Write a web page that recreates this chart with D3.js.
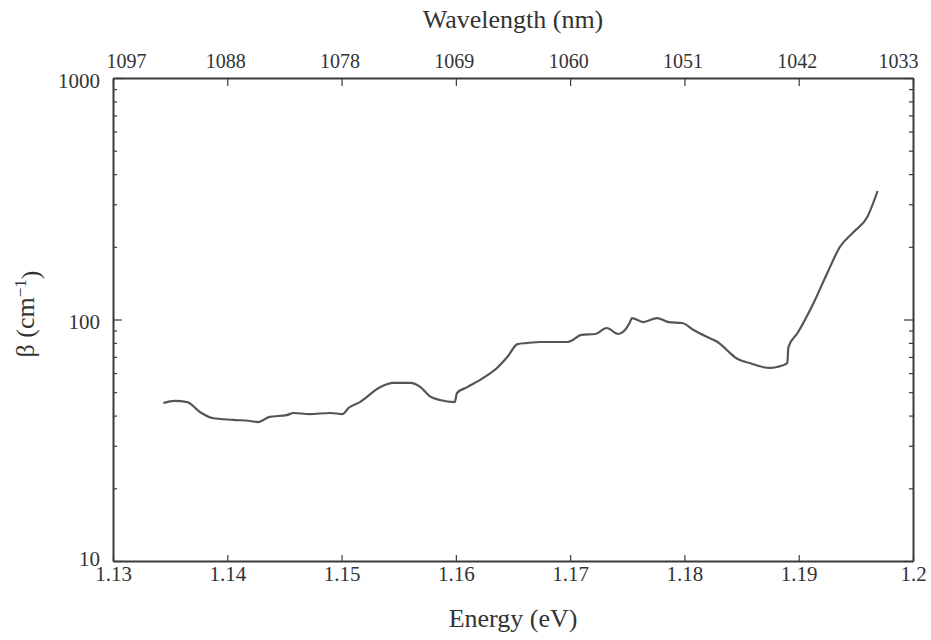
<!DOCTYPE html>
<html>
<head>
<meta charset="utf-8">
<script src="https://cdnjs.cloudflare.com/ajax/libs/d3/7.8.5/d3.min.js"></script>
<style>
  body { margin: 0; background: #fff; }
  text { font-family: "Liberation Serif", "DejaVu Serif", serif; fill: #333; }
</style>
</head>
<body>
<script>
// data
var energy = [1.1344, 1.1354, 1.1365, 1.1376, 1.1387, 1.1405, 1.1420, 1.1427, 1.1437, 1.1452,
  1.1458, 1.1472, 1.1490, 1.1501, 1.1506, 1.1516, 1.1534, 1.1545, 1.1560, 1.1569,
  1.1577, 1.1586, 1.1599, 1.1601, 1.1610, 1.1624, 1.1636, 1.1645, 1.1654, 1.1662,
  1.1674, 1.1698, 1.1710, 1.1722, 1.1732, 1.1742, 1.1752, 1.1754, 1.1764, 1.1776,
  1.1786, 1.1798, 1.1808, 1.1820, 1.1829, 1.1840, 1.1844, 1.1857, 1.1875, 1.1881,
  1.1890, 1.1891, 1.1899, 1.1913, 1.1925, 1.1936, 1.1948, 1.1960, 1.1969];
var beta = [45.1, 46.0, 45.5, 41.4, 39.1, 38.4, 38.0, 37.6, 39.5, 40.2,
  41.0, 40.6, 41.0, 40.6, 43.0, 45.5, 52.5, 54.6, 54.6, 52.5,
  48.2, 46.4, 45.5, 49.6, 52.5, 57.3, 63.0, 69.9, 79.1, 79.9,
  80.7, 80.7, 86.3, 87.1, 92.2, 87.1, 96.7, 101.4, 97.6, 101.4,
  97.6, 96.7, 90.5, 84.6, 80.7, 72.6, 69.9, 66.0, 63.0, 63.6,
  66.0, 76.9, 87.9, 117.0, 155.8, 199.6, 230.3, 265.7, 340.5];
var energyTicks = [1.13, 1.14, 1.15, 1.16, 1.17, 1.18, 1.19, 1.2];
var wavelengthLabels = ["1097", "1088", "1078", "1069", "1060", "1051", "1042", "1033"];
var betaTicks = [10, 100, 1000];

var W = 931, H = 640;
var margin = {top: 78, right: 18, bottom: 79, left: 113};

var svg = d3.select("body").append("svg")
    .attr("width", W)
    .attr("height", H);

var x = d3.scaleLinear().domain([1.13, 1.2]).range([margin.left, W - margin.right]);
var y = d3.scaleLog().domain([10, 1000]).range([H - margin.bottom, margin.top]);

var axisColor = "#3a3a3a";
var minor = [];
[10, 100].forEach(function(dec) {
    for (var k = 2; k <= 9; k++) minor.push(dec * k);
});

// bottom axis, ticks inward
var bottomAxis = svg.append("g")
    .attr("transform", "translate(0," + (H - margin.bottom) + ")")
    .call(d3.axisBottom(x).tickValues(energyTicks).tickSizeInner(-6).tickSizeOuter(0).tickPadding(5)
        .tickFormat(function(d) { return d === 1.2 ? "1.2" : d3.format(".2f")(d); }));
bottomAxis.selectAll("text").attr("font-size", "21px");

// top axis with wavelength labels
var topAxis = svg.append("g")
    .attr("transform", "translate(0," + margin.top + ")")
    .call(d3.axisTop(x).tickValues(energyTicks).tickSizeInner(-8).tickSizeOuter(0).tickPadding(10)
        .tickFormat(function(d, i) { return wavelengthLabels[i]; }));
topAxis.selectAll("text").attr("font-size", "20px").attr("dx", "-2");
topAxis.selectAll(".tick text").filter(function(d) { return d === 1.13; })
    .attr("text-anchor", "start").attr("dx", "-7");
topAxis.selectAll(".tick text").filter(function(d) { return d === 1.2; })
    .attr("text-anchor", "end").attr("dx", "5");

// left axis
var leftAxis = svg.append("g")
    .attr("transform", "translate(" + margin.left + ",0)")
    .call(d3.axisLeft(y).tickValues(betaTicks).tickSizeInner(-9).tickSizeOuter(0).tickPadding(13)
        .tickFormat(d3.format("d")));
leftAxis.selectAll("text").attr("font-size", "21px").attr("dy", "0.45em");
leftAxis.selectAll(".tick text").filter(function(d) { return d === 10; }).attr("dy", "0.22em");
svg.append("g")
    .attr("transform", "translate(" + margin.left + ",0)")
    .call(d3.axisLeft(y).tickValues(minor).tickSize(-4).tickFormat(""))
    .select(".domain").remove();

// right axis
svg.append("g")
    .attr("transform", "translate(" + (W - margin.right) + ",0)")
    .call(d3.axisRight(y).tickValues(betaTicks).tickSizeInner(-9).tickSizeOuter(0).tickFormat(""));
svg.append("g")
    .attr("transform", "translate(" + (W - margin.right) + ",0)")
    .call(d3.axisRight(y).tickValues(minor).tickSize(-4).tickFormat(""))
    .select(".domain").remove();

svg.selectAll(".domain").attr("stroke", axisColor).attr("stroke-width", 2);
svg.selectAll(".tick line").attr("stroke", axisColor).attr("stroke-width", 1.2);
svg.selectAll(".tick text").attr("fill", "#333");

// curve
var line = d3.line()
    .x(function(d, i) { return x(energy[i]); })
    .y(function(d) { return y(d); })
    .curve(d3.curveMonotoneX);

svg.append("path")
    .datum(beta)
    .attr("d", line)
    .attr("fill", "none")
    .attr("stroke", "#555")
    .attr("stroke-width", 2.2)
    .attr("stroke-linejoin", "round");

// titles
svg.append("text")
    .attr("x", (margin.left + W - margin.right) / 2)
    .attr("y", 28)
    .attr("text-anchor", "middle")
    .attr("font-size", "26px")
    .text("Wavelength (nm)");

svg.append("text")
    .attr("x", (margin.left + W - margin.right) / 2)
    .attr("y", 627)
    .attr("text-anchor", "middle")
    .attr("font-size", "26px")
    .text("Energy (eV)");

var yt = svg.append("text")
    .attr("transform", "translate(34,314) rotate(-90)")
    .attr("text-anchor", "middle")
    .attr("font-size", "26px");
yt.append("tspan").text("β (cm");
yt.append("tspan").attr("dy", "-0.5em").attr("font-size", "17px").text("−1");
yt.append("tspan").attr("dy", "0.5em").text(")");
</script>
</body>
</html>
